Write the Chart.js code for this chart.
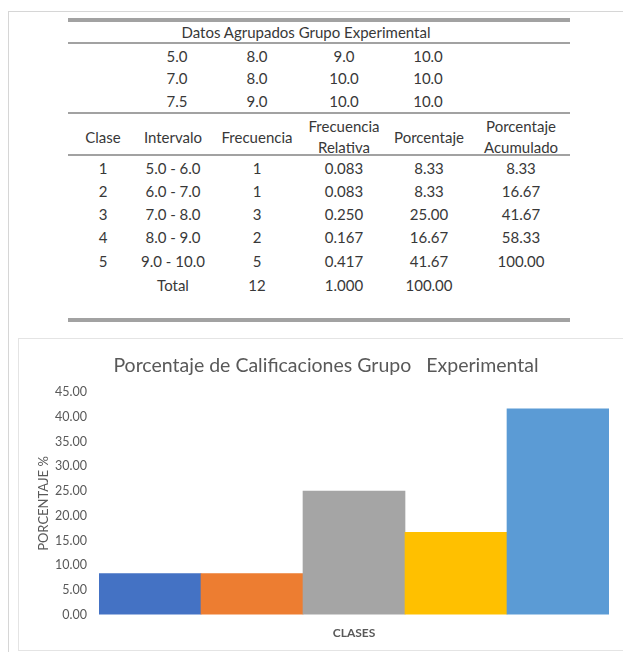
<!DOCTYPE html>
<html>
<head>
<meta charset="utf-8">
<title>Porcentaje de Calificaciones Grupo Experimental</title>
<script src="https://cdn.jsdelivr.net/npm/chart.js@4/dist/chart.umd.min.js"></script>
<style>
  html, body { margin: 0; padding: 0; background: #fff; overflow: hidden; }
  body { width: 623px; height: 652px; position: relative; font-family: Lato, "Open Sans", sans-serif; color: #383838; }
  .frame { position: absolute; left: 8px; top: 11px; width: 660px; height: 700px; border-left: 1px solid #d6d6d6; border-top: 1px solid #d6d6d6; }
  .rule { position: absolute; left: 68px; width: 502px; background: #a2a2a2; }
  .cell { position: absolute; white-space: nowrap; text-align: center; font-size: 15px; line-height: 21px; transform: translate(-50%, -50%); }
  .chartbox { position: absolute; left: 18px; top: 338px; width: 660px; height: 311px; border: 1px solid #e4e4e4; }
  #wrap { position: absolute; left: 18px; top: 338px; width: 605px; height: 312px; }
</style>
</head>
<body>
<div class="frame"></div>
<div id="table"></div>
<div class="chartbox"></div>
<div id="wrap"><canvas id="chart" width="605" height="312"></canvas></div>

<script>
// Raw grades of the experimental group (3 rows x 4 columns)
const rawGrades = [
  [5.0, 8.0, 9.0, 10.0],
  [7.0, 8.0, 10.0, 10.0],
  [7.5, 9.0, 10.0, 10.0]
];

// Frequency table
const headers = ["Clase", "Intervalo", "Frecuencia", "Frecuencia\nRelativa", "Porcentaje", "Porcentaje\nAcumulado"];
const classes = ["1", "2", "3", "4", "5"];
const intervals = ["5.0 - 6.0", "6.0 - 7.0", "7.0 - 8.0", "8.0 - 9.0", "9.0 - 10.0"];
const frequencies = [1, 1, 3, 2, 5];
const relativeFreq = [0.083, 0.083, 0.250, 0.167, 0.417];
const percents = [8.33, 8.33, 25.00, 16.67, 41.67];
const cumulative = [8.33, 16.67, 41.67, 58.33, 100.00];
const totals = { frequency: 12, relative: 1.000, percent: 100.00 };

// Bar colours, one per class
const barColors = ["#4472C4", "#ED7D31", "#A5A5A5", "#FFC000", "#5B9BD5"];

// ---------- table ----------
const table = document.getElementById("table");

function cell(text, x, y) {
  const d = document.createElement("div");
  d.className = "cell";
  d.style.left = x + "px";
  d.style.top = y + "px";
  d.innerHTML = text.split("\n").join("<br>");
  table.appendChild(d);
}
function rule(y, h) {
  const d = document.createElement("div");
  d.className = "rule";
  d.style.top = y + "px";
  d.style.height = h + "px";
  table.appendChild(d);
}

rule(18, 4);
rule(42, 2);
rule(112, 2);
rule(154, 2);
rule(318, 4);

cell("Datos Agrupados Grupo Experimental", 306, 32);

const rawCols = [177, 257, 344, 428];
const rawRows = [56, 78, 101];
rawGrades.forEach((row, r) => {
  row.forEach((v, c) => cell(v.toFixed(1), rawCols[c], rawRows[r]));
});

const cols = [103, 173, 257, 344, 429, 521];
headers.forEach((h, i) => cell(h, cols[i], 137));

const rowY = [168, 191, 214, 237, 261];
classes.forEach((c, i) => {
  cell(c, cols[0], rowY[i]);
  cell(intervals[i], cols[1], rowY[i]);
  cell(String(frequencies[i]), cols[2], rowY[i]);
  cell(relativeFreq[i].toFixed(3), cols[3], rowY[i]);
  cell(percents[i].toFixed(2), cols[4], rowY[i]);
  cell(cumulative[i].toFixed(2), cols[5], rowY[i]);
});
cell("Total", cols[1], 285);
cell(String(totals.frequency), cols[2], 285);
cell(totals.relative.toFixed(3), cols[3], 285);
cell(totals.percent.toFixed(2), cols[4], 285);

// ---------- chart ----------
const grey = "#595959";
new Chart(document.getElementById("chart"), {
  type: "bar",
  data: {
    labels: classes,
    datasets: [{
      data: percents,
      backgroundColor: barColors,
      borderWidth: 0,
      barPercentage: 1,
      categoryPercentage: 1
    }]
  },
  options: {
    responsive: false,
    animation: false,
    devicePixelRatio: 1,
    layout: { padding: { left: 25, right: 14, top: 0, bottom: 0 } },
    plugins: {
      legend: { display: false },
      tooltip: { enabled: false },
      title: {
        display: true,
        text: "Porcentaje de Calificaciones Grupo   Experimental",
        color: grey,
        font: { family: "Lato", size: 19.5, weight: "normal" },
        padding: { top: 16, bottom: 15 }
      }
    },
    scales: {
      x: {
        grid: { display: false, drawTicks: false },
        border: { display: false },
        ticks: { display: false },
        title: {
          display: true,
          text: "CLASES",
          color: grey,
          font: { family: "Lato", size: 12, weight: "bold" },
          padding: { top: 11, bottom: 10 }
        }
      },
      y: {
        min: 0,
        max: 45,
        grid: { display: false, drawTicks: false },
        border: { display: false },
        ticks: {
          stepSize: 5,
          padding: 12,
          color: grey,
          font: { family: "Lato", size: 12.5 },
          callback: v => Number(v).toFixed(2)
        },
        title: {
          display: true,
          text: "PORCENTAJE %",
          color: grey,
          font: { family: "Lato", size: 13 },
          padding: { top: -7, bottom: 0 }
        },
        afterFit(scale) { scale.width = 56; }
      }
    }
  }
});
</script>
</body>
</html>
